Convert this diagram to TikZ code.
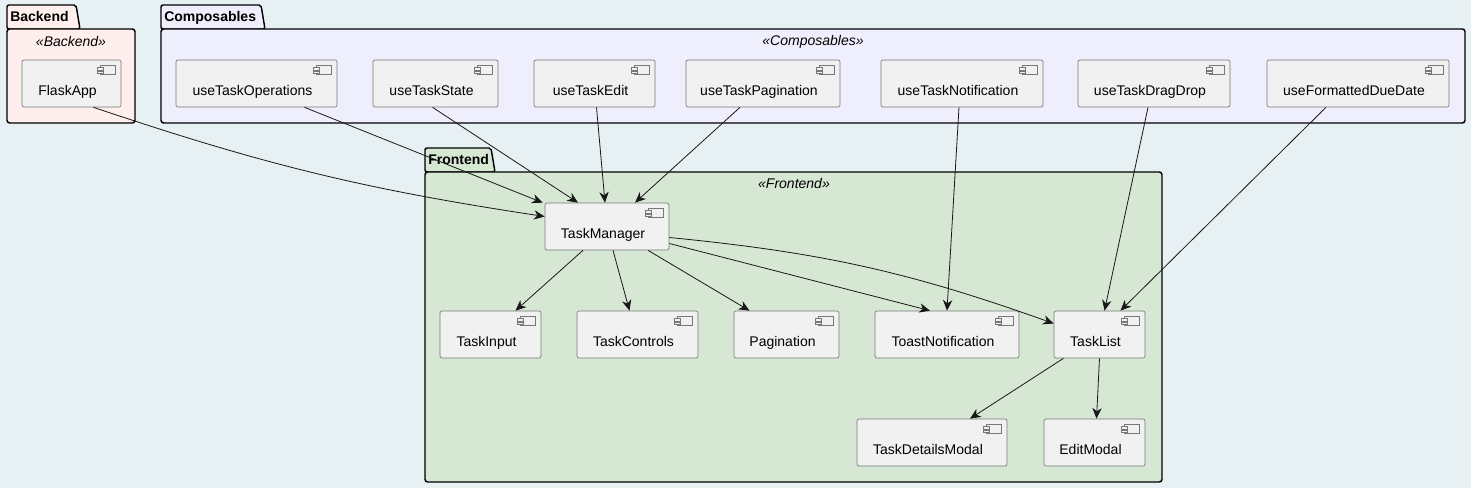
\documentclass[tikz,border=0pt]{standalone}
\usepackage{fontspec}
\setmainfont{Liberation Sans}
\usetikzlibrary{calc}
\usetikzlibrary{arrows.meta}
\definecolor{bgcol}{RGB}{231,240,242}
\definecolor{backfill}{RGB}{254,239,236}
\definecolor{compsfill}{RGB}{238,238,252}
\definecolor{frontfill}{RGB}{214,232,212}
\definecolor{compfill}{RGB}{241,241,241}
\definecolor{compline}{RGB}{120,120,120}
\definecolor{linecol}{RGB}{24,24,24}
\tikzset{
	comp/.style={draw=compline, fill=compfill, rounded corners=1.5pt, line width=0.5pt,
		minimum height=35.25pt, text height=17.4pt, text depth=0pt, inner sep=0pt,
		font=\fontsize{10.5}{12}\selectfont},
	icon/.style={draw=compline, fill=compfill, line width=0.4pt},
	pkg/.style={draw=black, line width=1.1pt, line join=round},
	pkgname/.style={font=\fontsize{10.5}{12}\selectfont\bfseries, inner sep=0pt, anchor=base west},
	stereo/.style={font=\fontsize{10.5}{12}\selectfont\itshape, inner sep=0pt},
	link/.style={draw=linecol, line width=0.6pt, -{Stealth[length=8pt,width=7pt,inset=2.5pt]}},
}
% Syntax: \comp(name)[left:right:top]{text}   (pixel units)
\def\comp(#1)[#2:#3:#4]#5{%
	\node[comp, minimum width={(#3-#2)*0.75pt}] (#1) at ({(#2+#3)/2},{#4+23.5}) {#5\hspace*{6pt}};
	\draw[icon] ($(#1.north east)+(-21,6)$) rectangle ++(15,9);		%component icon
	\draw[icon] ($(#1.north east)+(-24,8)$) rectangle ++(6,2.5);
	\draw[icon] ($(#1.north east)+(-24,11.5)$) rectangle ++(6,2.5);}
% Syntax: \pkg[fill](left:tabright:right)(top:bottom)
\def\pkg[#1](#2:#3:#4)(#5:#6){%
	\filldraw[pkg, fill=#1, rounded corners=1.5pt] (#2,#5+24) -- (#2,#5) -- (#3,#5) -- (#3+4,#5+24) -- cycle;
	\filldraw[pkg, fill=#1, rounded corners=2pt] (#2,#5+24) rectangle (#4,#6);}

\begin{document}
\begin{tikzpicture}[x=0.75pt, y=-0.75pt]
	\fill[bgcol] (0,0) rectangle (1471,488);
	\useasboundingbox (0,0) rectangle (1471,488);

	%packages
	\pkg[backfill](7:76:135)(5:123)
		\node[pkgname] (backlbl) at (10,22) {Backend};
		\node[stereo] (backst) at (71,42) {«Backend»};
	\pkg[compsfill](161:261:1465)(5:123)
		\node[pkgname] (compslbl) at (164,22) {Composables};
		\node[stereo] (compsst) at (813,42) {«Composables»};
	\pkg[frontfill](425:491:1162)(148:482)
		\node[pkgname] (frontlbl) at (428,165) {Frontend};
		\node[stereo] (frontst) at (794,184) {«Frontend»};

	%backend
	\comp(flask)[22:121:60]{FlaskApp}

	%composables
	\comp(ops)[176:337:60]{useTaskOperations}
	\comp(state)[373:498:60]{useTaskState}
	\comp(edit)[534:655:60]{useTaskEdit}
	\comp(pag)[686:840:60]{useTaskPagination}
	\comp(notif)[881:1043:60]{useTaskNotification}
	\comp(drag)[1078:1230:60]{useTaskDragDrop}
	\comp(fmt)[1267:1449:60]{useFormattedDueDate}

	%frontend
	\comp(tm)[545:669:203]{TaskManager}
	\comp(tinput)[440:541:311]{TaskInput}
	\comp(tctrl)[577:698:311]{TaskControls}
	\comp(pagin)[734:839:311]{Pagination}
	\comp(toast)[875:1019:311]{ToastNotification}
	\comp(tl)[1054:1145:311]{TaskList}
	\comp(tdm)[857:1007:419]{TaskDetailsModal}
	\comp(em)[1044:1145:419]{EditModal}

	%links into TaskManager
	\draw[link] ($(flask.south)+(22,0)$) to[bend right=5] ($(tm.west)+(0,-10)$);
	\draw[link] ($(ops.south)+(48,0)$) -- ($(tm.north west)+(-2,0)$);
	\draw[link] ($(state.south)+(-3,0)$) -- ($(tm.north)+(-29,0)$);
	\draw[link] ($(edit.south)+(2,0)$) -- ($(tm.north)+(-2,0)$);
	\draw[link] ($(pag.south)+(-23,0)$) -- ($(tm.north)+(28,0)$);

	%links into TaskList / ToastNotification
	\draw[link] ($(notif.south)+(-3,0)$) -- (toast.north);
	\draw[link] ($(drag.south)+(-6,0)$) -- ($(tl.north)+(5,0)$);
	\draw[link] ($(fmt.south)+(-32,0)$) -- ($(tl.north)+(21,0)$);

	%TaskManager children
	\draw[link] ($(tm.south)+(-24,0)$) -- ($(tinput.north)+(25,0)$);
	\draw[link] ($(tm.south)+(6,0)$) -- ($(tctrl.north)+(-8,0)$);
	\draw[link] ($(tm.south)+(41,0)$) -- ($(pagin.north)+(-37,0)$);
	\draw[link] ($(tm.east)+(0,17)$) -- ($(toast.north)+(-17,0)$);
	\draw[link] ($(tm.east)+(0,11)$) to[bend left=7] ($(tl.west)+(0,-11)$);

	%TaskList children
	\draw[link] ($(tl.south)+(-36,0)$) -- ($(tdm.north)+(38,0)$);
	\draw[link] ($(tl.south)+(0,0)$) -- ($(em.north)+(2,0)$);
\end{tikzpicture}
\end{document}
